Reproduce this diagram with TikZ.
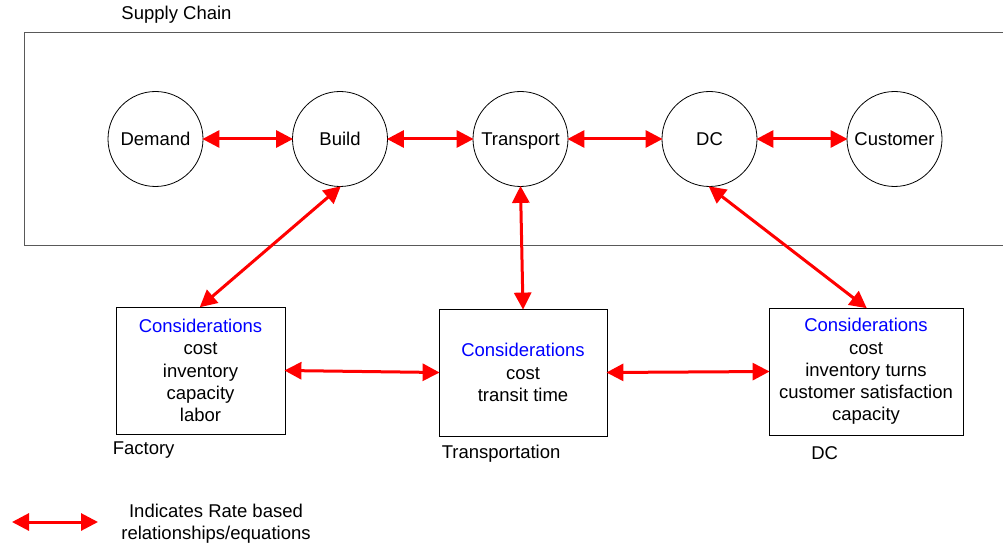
\documentclass[tikz,border=0pt]{standalone}
\usepackage{fontspec}
\setmainfont{Liberation Sans}
\definecolor{raterred}{RGB}{255,0,0}
\definecolor{headblue}{RGB}{0,0,255}
\usetikzlibrary{arrows.meta}

\begin{document}
\begin{tikzpicture}[x=1pt, y=-1pt,
    font=\fontsize{18.5}{22.2}\selectfont,
    stage/.style={circle, draw, line width=0.8pt, minimum size=95pt, inner sep=0pt, text height=16pt, text depth=2.5pt},
    concern/.style={draw, line width=0.8pt, align=center, inner sep=0pt},
    boxlabel/.style={anchor=west, inner sep=0pt},
    rate/.style={draw=raterred, line width=3pt, {Triangle[length=17pt,width=17pt]}-{Triangle[length=17pt,width=17pt]}, shorten <=-1pt, shorten >=-1pt}]
    \useasboundingbox (0,0) rectangle (1003,548);
    % supply chain frame, runs off the right edge
    \draw[black!65, line width=1pt] (1012,33) -- (24,33) -- (24,245) -- (1012,245);
    \node at (176.5,15) {Supply Chain};
    % stages
    \node[stage] (demand) at (155.5,139) {Demand};
    \node[stage] (build) at (340,139) {Build};
    \node[stage] (trans) at (520.5,139) {Transport};
    \node[stage] (dc) at (709.5,139) {DC};
    \node[stage] (cust) at (894.5,139) {Customer};
    % considerations
    \node[concern, minimum width=169pt, minimum height=127pt] (fac) at (200.5,370.5)
      {\textcolor{headblue}{Considerations}\\cost\\inventory\\capacity\\labor};
    \node[concern, minimum width=168pt, minimum height=127pt] (tbox) at (523,372.5)
      {\textcolor{headblue}{Considerations}\\cost\\transit time};
    \node[concern, minimum width=194pt, minimum height=127pt] (dcbox) at (866,371.5)
      {\textcolor{headblue}{Considerations}\\cost\\inventory turns\\customer satisfaction\\capacity};
    \node[boxlabel] at ([xshift=-3pt, yshift=-16pt]fac.south west) {Factory};
    \node[boxlabel] at ([xshift=3pt, yshift=-17pt]tbox.south west) {Transportation};
    \node at ([xshift=56pt, yshift=-18pt]dcbox.south west) {DC};
    % rate relationships
    \draw[rate] (demand) -- (build);
    \draw[rate] (build) -- (trans);
    \draw[rate] (trans) -- (dc);
    \draw[rate] (dc) -- (cust);
    \draw[rate] (build.south) -- (fac.north);
    \draw[rate] (trans.south) -- (tbox.north);
    \draw[rate] (dc.south) -- (dcbox.north);
    \draw[rate] (fac.east) -- (tbox.west);
    \draw[rate] (tbox.east) -- (dcbox.west);
    % legend
    \coordinate (legl) at (12,522);
    \coordinate (legr) at (98,522);
    \draw[rate, shorten <=0pt, shorten >=0pt] (legl) -- (legr);
    \node[align=center] (legtext) at (216,524) {Indicates Rate based\\relationships/equations};
\end{tikzpicture}
\end{document}
